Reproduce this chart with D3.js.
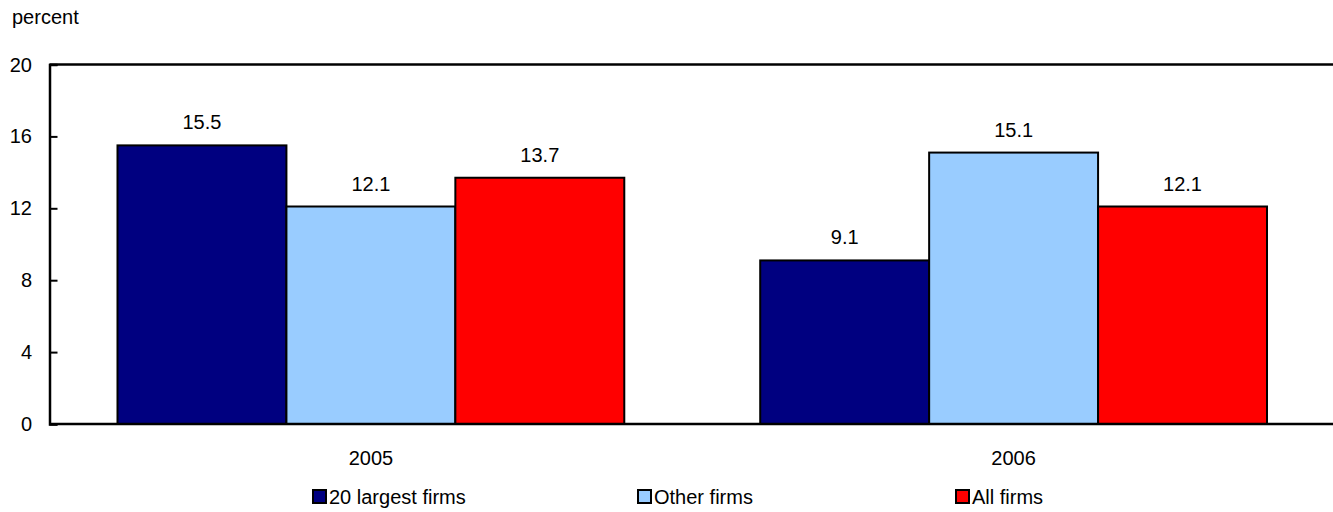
<!DOCTYPE html>
<html>
<head>
<meta charset="utf-8">
<script src="https://cdn.jsdelivr.net/npm/d3@7"></script>
<style>
  html, body { margin: 0; padding: 0; background: #fff; }
  svg { display: block; }
  text { font-family: "Liberation Sans", Arial, Helvetica, sans-serif; fill: #000; }
</style>
</head>
<body>
<svg id="chart" width="1333" height="512"></svg>
<script>
const years = ["2005", "2006"];
const seriesNames = ["20 largest firms", "Other firms", "All firms"];
const largestFirms = [15.5, 9.1];
const otherFirms = [12.1, 15.1];
const allFirms = [13.7, 12.1];
const yTicks = [0, 4, 8, 12, 16, 20];
const colors = ["#000080", "#99CCFF", "#FF0000"];

const seriesValues = [largestFirms, otherFirms, allFirms];

const svg = d3.select("#chart");
const mLeft = 49.5, mRight = 1335, mTop = 64.5, mBottom = 424;
const fs = 20;

const x0 = d3.scaleBand().domain(years).range([mLeft, mRight])
  .paddingInner(0.2115).paddingOuter(0.1058);
const x1 = d3.scaleBand().domain(seriesNames).range([0, x0.bandwidth()]);
const y = d3.scaleLinear().domain([0, 20]).range([mBottom, mTop]);

// bars
years.forEach((yr, i) => {
  const g = svg.append("g").attr("transform", `translate(${x0(yr)},0)`);
  seriesNames.forEach((s, j) => {
    const v = seriesValues[j][i];
    g.append("rect")
      .attr("x", x1(s))
      .attr("y", y(v))
      .attr("width", x1.bandwidth())
      .attr("height", y(0) - y(v))
      .attr("fill", colors[j])
      .attr("stroke", "#000")
      .attr("stroke-width", 2);
    g.append("text")
      .attr("x", x1(s) + x1.bandwidth() / 2)
      .attr("y", y(v) - 16)
      .attr("text-anchor", "middle")
      .attr("font-size", fs)
      .text(v.toFixed(1));
  });
});

// frame: top, bottom
svg.append("line").attr("x1", mLeft).attr("x2", 1333).attr("y1", mTop).attr("y2", mTop)
  .attr("stroke", "#000").attr("stroke-width", 2.5);
svg.append("line").attr("x1", mLeft).attr("x2", 1333).attr("y1", mBottom).attr("y2", mBottom)
  .attr("stroke", "#000").attr("stroke-width", 2.5);

// y axis
const yAxis = d3.axisRight(y).tickValues(yTicks).tickSize(8).tickFormat("");
const ya = svg.append("g").attr("transform", `translate(${mLeft},0)`).call(yAxis);
ya.select(".domain").attr("stroke", "#000").attr("stroke-width", 2.5);
ya.selectAll(".tick line").attr("stroke", "#000").attr("stroke-width", 2);

svg.append("g").selectAll("text").data(yTicks).join("text")
  .attr("x", 32).attr("y", d => y(d)).attr("dy", "0.35em")
  .attr("text-anchor", "end").attr("font-size", fs).text(d => d);

// x labels
svg.append("g").selectAll("text").data(years).join("text")
  .attr("x", d => x0(d) + x0.bandwidth() / 2).attr("y", 465)
  .attr("text-anchor", "middle").attr("font-size", fs).text(d => d);

// y title
svg.append("text").attr("x", 12).attr("y", 24).attr("font-size", fs).text("percent");

// legend
const legendX = [313, 638, 956];
const lg = svg.append("g").selectAll("g").data(seriesNames).join("g")
  .attr("transform", (d, i) => `translate(${legendX[i]},490)`);
lg.append("rect").attr("x", 0).attr("y", 0).attr("width", 13).attr("height", 13)
  .attr("fill", (d, i) => colors[i]).attr("stroke", "#000").attr("stroke-width", 2);
lg.append("text").attr("x", 16).attr("y", 14).attr("font-size", fs).text(d => d);
</script>
</body>
</html>
